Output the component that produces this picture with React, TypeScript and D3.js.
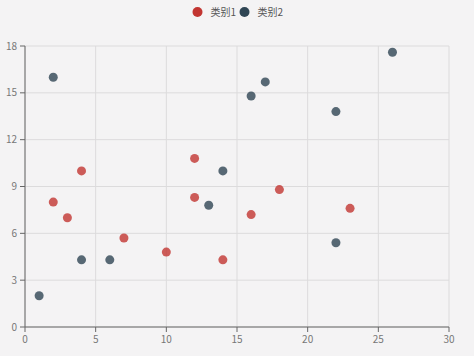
import React from "react";
import * as d3 from "d3";

const seriesNames = ["类别1", "类别2"];
const seriesColors = ["#c23531", "#2f4554"];
const series1: [number, number][] = [
  [2, 8], [3, 7], [4, 10], [7, 5.7], [10, 4.8], [12, 10.8], [12, 8.3],
  [14, 4.3], [16, 7.2], [18, 8.8], [23, 7.6],
];
const series2: [number, number][] = [
  [1, 2], [2, 16], [4, 4.3], [6, 4.3], [13, 7.8], [14, 10], [16, 14.8],
  [17, 15.7], [22, 13.8], [22, 5.4], [26, 17.6],
];
const xTicks = [0, 5, 10, 15, 20, 25, 30];
const yTicks = [0, 3, 6, 9, 12, 15, 18];

const W = 474, H = 356;
const M = { left: 25, right: 25, top: 46, bottom: 29 };

export default function App() {
  const x = d3.scaleLinear().domain([0, 30]).range([M.left, W - M.right]);
  const y = d3.scaleLinear().domain([0, 18]).range([H - M.bottom, M.top]);
  const all = [series1, series2];
  const font = "'Microsoft YaHei', 'Noto Sans CJK SC', 'Open Sans', sans-serif";
  return (
    <svg width={W} height={H} style={{ position: "absolute", left: 0, top: 0, background: "#f4f3f4" }} fontFamily={font}>
      {/* grid */}
      {yTicks.map((t) => (
        <line key={"gy" + t} x1={x(0)} x2={x(30)} y1={y(t)} y2={y(t)} stroke="#dcdbdc" strokeWidth={1} />
      ))}
      {xTicks.map((t) => (
        <line key={"gx" + t} x1={x(t)} x2={x(t)} y1={y(0)} y2={y(18)} stroke="#dcdbdc" strokeWidth={1} />
      ))}
      {/* axes */}
      <line x1={x(0)} x2={x(0)} y1={y(0)} y2={y(18)} stroke="#666" />
      <line x1={x(0)} x2={x(30)} y1={y(0)} y2={y(0)} stroke="#666" />
      {yTicks.map((t) => (
        <g key={"ty" + t}>
          <line x1={x(0) - 5} x2={x(0)} y1={y(t)} y2={y(t)} stroke="#666" />
          <text x={x(0) - 8} y={y(t)} dy="0.35em" textAnchor="end" fontSize={10} fill="#777">{t}</text>
        </g>
      ))}
      {xTicks.map((t) => (
        <g key={"tx" + t}>
          <line x1={x(t)} x2={x(t)} y1={y(0)} y2={y(0) + 5} stroke="#666" />
          <text x={x(t)} y={y(0) + 16} textAnchor="middle" fontSize={10} fill="#777">{t}</text>
        </g>
      ))}
      {/* points */}
      {all.map((s, i) =>
        s.map((d, j) => (
          <circle key={i + "-" + j} cx={x(d[0])} cy={y(d[1])} r={4.5} fill={seriesColors[i]} fillOpacity={0.8} />
        ))
      )}
      {/* legend */}
      {seriesNames.map((n, i) => (
        <g key={n} transform={`translate(${197.5 + i * 47},12)`}>
          <circle cx={0} cy={0} r={5} fill={seriesColors[i]} />
          <text x={13} y={0} dy="0.35em" fontSize={10} fill="#555">{n}</text>
        </g>
      ))}
    </svg>
  );
}
